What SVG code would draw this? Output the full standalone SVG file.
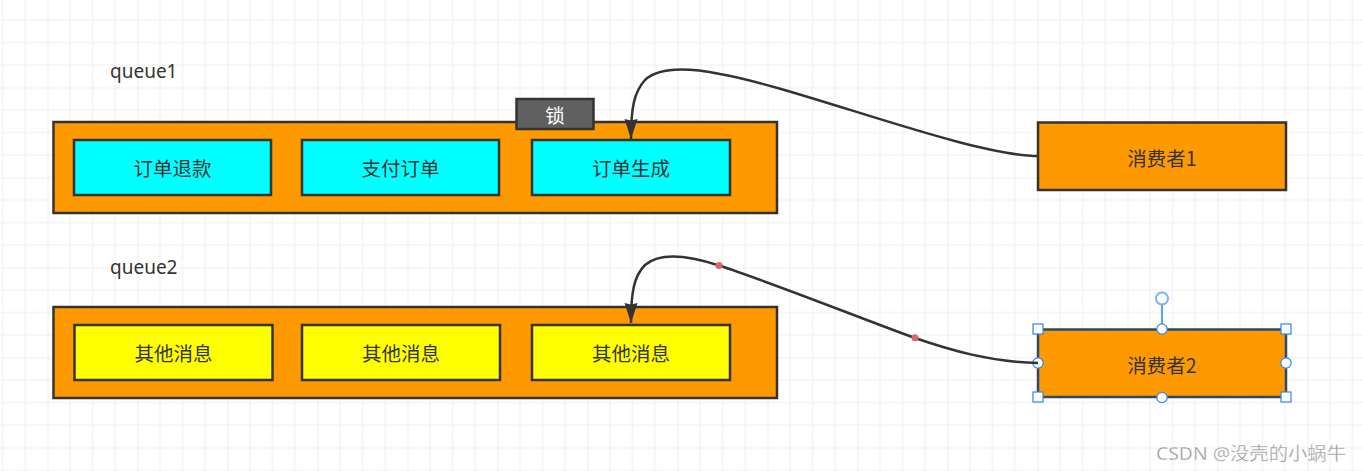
<svg xmlns="http://www.w3.org/2000/svg" width="1363" height="471" viewBox="0 0 1363 471">
<style>
.q{fill:#FF9900;stroke:#333;stroke-width:2.5}
.c{fill:#00FFFF;stroke:#333;stroke-width:2.5}
.y{fill:#FFFF00;stroke:#333;stroke-width:2.5}
.t{font-family:"Noto Sans CJK SC","Noto Sans",sans-serif;font-size:19.5px;fill:#333;text-anchor:middle;dominant-baseline:central}
.lbl{font-family:"Noto Sans","Noto Sans CJK SC",sans-serif;font-size:19px;fill:#333}
.edge{fill:none;stroke:#333;stroke-width:2.5;marker-end:url(#arr)}
.hs{fill:#fff;stroke:#2e86f0;stroke-width:1.2}
</style>
<defs>
<pattern id="grid" patternUnits="userSpaceOnUse" x="47.5" y="87.5" width="90" height="90">
<path d="M22.5 0V90M45 0V90M67.5 0V90M0 22.5H90M0 45H90M0 67.5H90" stroke="#f0f0f0" stroke-width="1.2" fill="none"/>
<path d="M0 0V90M0 0H90" stroke="#e2e2e2" stroke-width="1.2" fill="none"/>
</pattern>
<marker id="arr" markerUnits="userSpaceOnUse" markerWidth="22" markerHeight="14" viewBox="0 0 22 14" refX="20" refY="7" orient="auto">
<path d="M0,0.5 L20,7 L0,13.5 L1.5,7 z" fill="#333"/>
</marker>
</defs>
<rect width="1363" height="471" fill="#fff"/>
<rect width="1363" height="471" fill="url(#grid)"/>

<g id="queue1-label"><text class="lbl" x="110" y="78">queue1</text></g>
<g id="queue2-label"><text class="lbl" x="110" y="274">queue2</text></g>

<g id="queue1">
<rect class="q" x="53.5" y="122" width="723.5" height="91"/>
</g>
<g id="lock">
<rect x="516.5" y="99" width="77" height="30" fill="#606060" stroke="#333" stroke-width="2.5"/>
<text class="t" x="555" y="114" style="fill:#fff">锁</text>
</g>
<g id="q1-refund"><rect class="c" x="74" y="140" width="197" height="55"/><text class="t" x="172.5" y="167.5">订单退款</text></g>
<g id="q1-pay"><rect class="c" x="302" y="140" width="197" height="55"/><text class="t" x="400.5" y="167.5">支付订单</text></g>
<g id="q1-create"><rect class="c" x="532" y="140" width="198" height="55"/><text class="t" x="631" y="167.5">订单生成</text></g>

<g id="queue2">
<rect class="q" x="53.5" y="307" width="723.5" height="91"/>
</g>
<g id="q2-a"><rect class="y" x="74.5" y="325" width="198" height="55"/><text class="t" x="173.5" y="352.5">其他消息</text></g>
<g id="q2-b"><rect class="y" x="302" y="325" width="198" height="55"/><text class="t" x="401" y="352.5">其他消息</text></g>
<g id="q2-c"><rect class="y" x="532" y="325" width="198" height="55"/><text class="t" x="631" y="352.5">其他消息</text></g>

<g id="consumer1"><rect class="q" x="1038" y="122.5" width="248" height="67.5"/><text class="t" x="1162" y="157">消费者1</text></g>
<g id="consumer2">
<rect x="1038" y="329.5" width="248" height="67.5" fill="#FF9900" stroke="#2b4a6e" stroke-width="2.5"/>
<text class="t" x="1162" y="364">消费者2</text>
<path d="M1162 304V329" stroke="#5aa2f0" stroke-width="2"/>
<circle cx="1162" cy="298.5" r="6" fill="#fff" stroke="#7ab6f5" stroke-width="2"/>
<rect class="hs" x="1033" y="324" width="10" height="10"/>
<rect class="hs" x="1281" y="324" width="10" height="10"/>
<rect class="hs" x="1033" y="392" width="10" height="10"/>
<rect class="hs" x="1281" y="392" width="10" height="10"/>
<circle class="hs" cx="1162" cy="329" r="5.2"/>
<circle class="hs" cx="1162" cy="397.5" r="5.2"/>
<circle class="hs" cx="1038" cy="363" r="5.2"/>
<circle class="hs" cx="1286" cy="363" r="5.2"/>
</g>

<g id="connectors">
<path class="edge" d="M1038,156 C970,156 800,88 720,74 C690,68 660,66 645,80 C634,92 631,108 631,139"/>
<path class="edge" d="M1038,363 C990,362 950,350 915,338 C860,318 770,282 719,265.5 C690,256 660,252 645,265 C634,276 631,292 631,323"/>
<circle cx="719" cy="265.5" r="3.5" fill="#e06666"/>
<circle cx="915" cy="337.7" r="3.5" fill="#e06666"/>
</g>

<g id="watermark"><text x="1156" y="460" font-family="Noto Sans,Noto Sans CJK SC,sans-serif" font-size="18" fill="#999" stroke="#fff" stroke-width="0.3" textLength="190" lengthAdjust="spacingAndGlyphs">CSDN @没壳的小蜗牛</text></g>
</svg>
